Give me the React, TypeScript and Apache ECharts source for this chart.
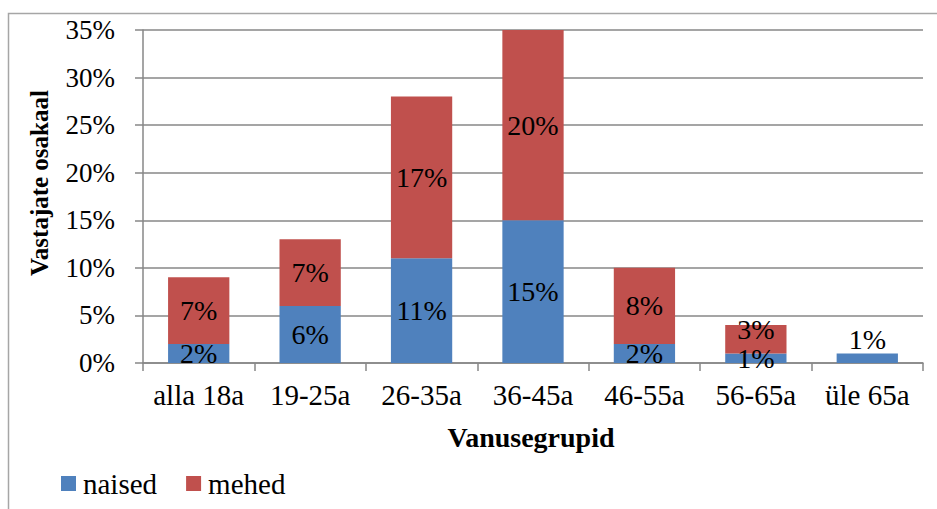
import React, { useEffect, useRef } from "react";
import * as echarts from "echarts";

const categories = ["alla 18a", "19-25a", "26-35a", "36-45a", "46-55a", "56-65a", "üle 65a"];
const naised = [2, 6, 11, 15, 2, 1, 1];
const mehed = [7, 7, 17, 20, 8, 3, 0];
const yTicks = [0, 5, 10, 15, 20, 25, 30, 35];

const FONT = "Liberation Serif";

export default function App() {
  const ref = useRef<HTMLDivElement>(null);
  useEffect(() => {
    if (!ref.current) return;
    const chart = echarts.init(ref.current, undefined, { renderer: "svg" });
    const lbl = {
      show: true,
      position: "inside" as const,
      formatter: (p: any) => (p.value > 0 ? p.value + "%" : ""),
      color: "#000",
      fontFamily: FONT,
      fontSize: 28,
    };
    chart.setOption({
      animation: false,
      backgroundColor: "#fff",
      textStyle: { fontFamily: FONT },
      grid: { left: 143, top: 30, right: 14, bottom: 146, containLabel: false },
      graphic: [
        {
          type: "rect",
          shape: { x: 8.5, y: 13.5, width: 1000, height: 600 },
          style: { fill: "none", stroke: "#a6a6a6", lineWidth: 1.5 },
          silent: true,
        },
        {
          type: "text",
          x: 531,
          y: 437,
          style: {
            text: "Vanusegrupid",
            fontFamily: FONT,
            fontWeight: "bold",
            fontSize: 28,
            fill: "#000",
            align: "center",
            verticalAlign: "middle",
          },
        },
        {
          type: "text",
          x: 39,
          y: 183,
          rotation: Math.PI / 2,
          style: {
            text: "Vastajate osakaal",
            fontFamily: FONT,
            fontWeight: "bold",
            fontSize: 25,
            fill: "#000",
            align: "center",
            verticalAlign: "middle",
          },
        },
      ],
      legend: {
        left: 61,
        top: 469,
        padding: 0,
        itemWidth: 15,
        itemHeight: 15,
        itemGap: 29,
        icon: "rect",
        textStyle: { fontFamily: FONT, fontSize: 29, color: "#000", padding: [0, 0, 0, 2] },
        data: ["naised", "mehed"],
      },
      xAxis: {
        type: "category",
        data: categories,
        axisLine: { lineStyle: { color: "#878787", width: 1.5 } },
        axisTick: { show: true, length: 8, lineStyle: { color: "#878787", width: 1.5 } },
        axisLabel: {
          color: "#000",
          fontFamily: FONT,
          fontSize: 29,
          margin: 17,
          interval: 0,
          hideOverlap: false,
        },
      },
      yAxis: {
        type: "value",
        min: 0,
        max: 35,
        interval: 5,
        axisLine: { show: true, lineStyle: { color: "#878787", width: 1.5 } },
        axisTick: { show: true, length: 8, lineStyle: { color: "#878787", width: 1.5 } },
        splitLine: { lineStyle: { color: "#878787", width: 1.5 } },
        axisLabel: {
          color: "#000",
          fontFamily: FONT,
          fontSize: 27,
          margin: 28,
          formatter: (v: number) => (yTicks.includes(v) ? v + "%" : ""),
        },
      },
      series: [
        {
          name: "naised",
          type: "bar",
          stack: "total",
          barWidth: "55%",
          itemStyle: { color: "#4F81BD" },
          label: lbl,
          data: naised.map((v, i) =>
            mehed[i] === 0
              ? { value: v, label: { position: "top", distance: 0 } }
              : v
          ),
        },
        {
          name: "mehed",
          type: "bar",
          stack: "total",
          barWidth: "55%",
          itemStyle: { color: "#C0504D" },
          label: lbl,
          data: mehed.map((v) =>
            v > 0 && v < 5 ? { value: v, label: { offset: [0, -10] } } : v
          ),
        },
      ],
    });
    return () => chart.dispose();
  }, []);
  return <div ref={ref} style={{ width: 937, height: 509, position: "absolute", left: 0, top: 0 }} />;
}
